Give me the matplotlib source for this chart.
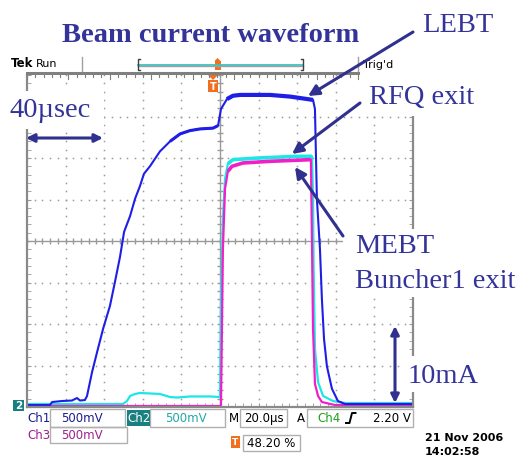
import numpy as np
import matplotlib.pyplot as plt
from matplotlib.patches import Rectangle, Polygon

# scope settings: 20 us/div (10 div), 500 mV/div (8 div)
# Ch1 - LEBT
ch1_t = [0, 11.9, 13.0, 18.1, 23.3, 25.9, 27.5, 30.0, 31.1, 33.7, 36.3, 39.4, 43.0,
         45.6, 48.2, 50.3, 53.4, 56.0, 58.5, 60.6, 63.7, 66.3, 68.9, 74.1, 79.3, 84.4,
         89.6, 96.4, 99.0, 100.5, 103.6, 106.7, 110.4, 125.9, 136.3, 148.2, 149.2,
         150.2, 151.8, 152.8, 153.9, 155.4, 158.0, 161.1, 164.8, 200]
ch1_v = [0.024, 0.024, 0.060, 0.072, 0.078, 0.108, 0.078, 0.084, 0.133, 0.42, 0.66,
         0.94, 1.22, 1.51, 1.81, 2.11, 2.30, 2.51, 2.66, 2.81, 2.90, 2.99, 3.08, 3.20,
         3.29, 3.33, 3.35, 3.36, 3.39, 3.59, 3.71, 3.75, 3.76, 3.76, 3.74, 3.70, 3.59,
         2.51, 1.90, 1.30, 0.82, 0.49, 0.22, 0.072, 0.036, 0.036]
# Ch2 - RFQ exit
ch2_t = [0, 49.7, 51.8, 53.4, 56.0, 58.5, 63.7, 68.9, 74.1, 77.7, 84.4, 94.8, 100.0,
         100.5, 101.5, 102.6, 104.1, 106.7, 120.0, 140.0, 147.7, 148.2, 148.5, 149.2,
         150.8, 153.4, 158.5, 164.8, 200]
ch2_v = [0.036, 0.036, 0.072, 0.133, 0.157, 0.169, 0.163, 0.157, 0.12, 0.114, 0.127,
         0.127, 0.12, 1.30, 2.27, 2.75, 2.93, 2.98, 3.00, 3.02, 3.02, 2.51, 1.70, 0.70,
         0.30, 0.133, 0.072, 0.048, 0.048]
# Ch3 - MEBT buncher1 exit
ch3_t = [0, 100.5, 101.0, 101.5, 102.6, 104.1, 106.2, 111.9, 125.9, 147.1, 147.7,
         148.2, 149.2, 150.8, 152.8, 159.6, 200]
ch3_v = [0.012, 0.012, 0.94, 1.90, 2.63, 2.84, 2.90, 2.94, 2.96, 2.98, 1.90, 0.94,
         0.28, 0.133, 0.06, 0.024, 0.024]

W, H = 516, 460
navy = '#333399'
gridc = '#9a9a9a'
serif = 'Liberation Serif'

fig = plt.figure(figsize=(W / 100, H / 100), dpi=100)
ax = fig.add_axes([27 / W, (H - 408) / H, 386 / W, 332 / H])
ax.set_xlim(0, 200)
ax.set_ylim(0, 4)

xs_minor = np.arange(0, 200.1, 4)
ys_minor = np.arange(0, 4.01, 0.1)
for yv in np.arange(0.5, 4, 0.5):
    if abs(yv - 2) < 1e-6:
        continue
    ax.plot(xs_minor, np.full_like(xs_minor, yv), ls='none', marker='s', ms=1.1,
            mew=0, color=gridc)
for xv in np.arange(20, 200, 20):
    if xv == 100:
        continue
    ax.plot(np.full_like(ys_minor, xv), ys_minor, ls='none', marker='s', ms=1.1,
            mew=0, color=gridc)
ax.axhline(2, color=gridc, lw=1)
ax.axvline(100, color=gridc, lw=1)
ax.plot(xs_minor, np.full_like(xs_minor, 2), ls='none', marker='|', ms=5, color=gridc)
ax.plot(np.full_like(ys_minor, 100), ys_minor, ls='none', marker='_', ms=5, color=gridc)

ax.set_xticks(np.arange(0, 201, 20))
ax.set_xticks(xs_minor, minor=True)
ax.set_yticks(np.arange(0, 4.01, 0.5))
ax.set_yticks(ys_minor, minor=True)
ax.tick_params(which='both', direction='in', length=3, color=gridc, top=False,
               right=True, labelbottom=False, labelleft=False)
for s in ['left', 'right', 'bottom']:
    ax.spines[s].set_color('#8a8a8a')
    ax.spines[s].set_linewidth(1.6)
ax.spines['top'].set_visible(False)

c1, c2, c3 = '#1e1ee6', '#1ee6e6', '#f020c8'
ax.plot(ch2_t, ch2_v, color=c2, lw=1.6)
ax.plot(ch2_t[16:21], ch2_v[16:21], color=c2, lw=2.6, solid_capstyle='butt')
ax.plot(ch3_t, ch3_v, color=c3, lw=1.6)
ax.plot(ch3_t[5:10], ch3_v[5:10], color=c3, lw=2.6, solid_capstyle='butt')
ax.plot(ch1_t, ch1_v, color=c1, lw=1.5)
ax.plot(ch1_t[23:29], ch1_v[23:29], color=c1, lw=2.2, solid_capstyle='butt')
ax.plot(ch1_t[30:36], ch1_v[30:36], color=c1, lw=3.0, solid_capstyle='butt')

# overlay in pixel coordinates
ov = fig.add_axes([0, 0, 1, 1])
ov.set_xlim(0, W)
ov.set_ylim(H, 0)
ov.axis('off')
ov.set_zorder(2)
ov.patch.set_alpha(0)

# white label boxes
for x0, y0, w, h in [(0, 92, 104, 38), (358, 70, 129, 47), (343, 230, 173, 68),
                     (400, 357, 80, 36)]:
    ov.add_patch(Rectangle((x0, y0), w, h, fc='white', ec='none'))

# top status bar
ov.text(11, 67, 'Tek', fontsize=8.5, fontweight='bold', color='black')
ov.text(36, 67, 'Run', fontsize=8, color='black')
ov.plot([27, 358], [73.5, 73.5], color='#7f7f7f', lw=2.2)
tick_x = np.linspace(27, 358, 41)
for i, tx in enumerate(tick_x):
    ov.plot([tx, tx], [74, 78 if i % 5 else 80], color='#7f7f7f', lw=0.8)
for sx in [82, 358]:
    ov.plot([sx, sx], [58, 72], color='#a0a0a0', lw=1)
ov.plot([138, 303], [67, 67], color='#a0a0a0', lw=1)
ov.plot([138, 303], [65.5, 65.5], color='#40c0c0', lw=1.3)
ov.plot([140, 138, 138, 140], [60, 60, 71, 71], color='#404040', lw=1)
ov.plot([301, 303, 303, 301], [60, 60, 71, 71], color='#404040', lw=1)
ov.add_patch(Rectangle((214.5, 62), 6, 9, fc='#f07020', ec='none'))
ov.add_patch(Polygon([[214.5, 62], [220.5, 62], [217.5, 59]], fc='#f07020', ec='none'))
ov.text(363, 68, "Trig'd", fontsize=8, color='black')

# trigger marker on screen
ov.add_patch(Polygon([[208, 76], [218, 76], [213, 81]], fc='#f07020', ec='none'))
ov.add_patch(Rectangle((208, 81), 10, 12, fc='#f07020', ec='none'))
ov.text(213, 87.5, 'T', fontsize=7, fontweight='bold', color='white', ha='center', va='center')

# ground marker
ov.add_patch(Rectangle((13, 401), 11, 11, fc='#188080', ec='none'))
ov.text(18.5, 406.5, '2', fontsize=7.5, fontweight='bold', color='white', ha='center', va='center')

# bottom readouts
boxes = [(50, 410, 75, 18), (150, 410, 75, 18), (240, 410, 47, 18), (307, 410, 106, 18),
         (50, 428, 77, 16), (243, 436, 57, 16)]
for x0, y0, w, h in boxes:
    ov.add_patch(Rectangle((x0, y0), w, h, fc='none', ec='#b0b0b0', lw=1))
ov.add_patch(Rectangle((127, 411), 23, 16, fc='#188080', ec='none'))
row1, row2 = 419, 436
ov.text(38.5, row1, 'Ch1', fontsize=8.5, color='#1c1c90', ha='center', va='center')
ov.text(82, row1, '500mV', fontsize=8.5, color='#1c1c90', ha='center', va='center')
ov.text(138.5, row1, 'Ch2', fontsize=8.5, color='white', ha='center', va='center')
ov.text(186, row1, '500mV', fontsize=8.5, color='#20a8a8', ha='center', va='center')
ov.text(234, row1, 'M', fontsize=8.5, color='black', ha='center', va='center')
ov.text(264, row1, '20.0\u00b5s', fontsize=8.5, color='black', ha='center', va='center')
ov.text(301, row1, 'A', fontsize=8.5, color='black', ha='center', va='center')
ov.text(329, row1, 'Ch4', fontsize=8.5, color='#1ca01c', ha='center', va='center')
ov.plot([346, 349.5, 352, 355.5], [424, 424, 414, 414], color='black', lw=1.4)
ov.text(411, row1, '2.20 V', fontsize=8.5, color='black', ha='right', va='center')
ov.text(38.5, row2, 'Ch3', fontsize=8.5, color='#a0208c', ha='center', va='center')
ov.text(82, row2, '500mV', fontsize=8.5, color='#a0208c', ha='center', va='center')
ov.add_patch(Rectangle((231, 437), 9, 12, fc='#f07020', ec='none'))
ov.text(235.5, 443, 'T', fontsize=6.5, fontweight='bold', color='white', ha='center', va='center')
ov.text(271, 444, '48.20 %', fontsize=8.5, color='black', ha='center', va='center')
ov.text(425, 438, '21 Nov 2006', fontsize=8, fontweight='bold', color='black', va='center')
ov.text(425, 452, '14:02:58', fontsize=8, fontweight='bold', color='black', va='center')

# annotations
ov.text(211, 41.5, 'Beam current waveform', fontsize=20.5, fontweight='bold',
        family=serif, color=navy, ha='center', va='baseline')
ov.text(422, 31.5, 'LEBT', fontsize=20.5, family=serif, color=navy, va='baseline')
ov.text(369, 104, 'RFQ exit', fontsize=20.5, family=serif, color=navy, va='baseline')
ov.text(9, 117, '40\u00b5sec', fontsize=20.5, family=serif, color=navy, va='baseline')
ov.text(355, 253, 'MEBT', fontsize=20.5, family=serif, color=navy, va='baseline')
ov.text(355, 288, 'Buncher1 exit', fontsize=20.5, family=serif, color=navy, va='baseline')
ov.text(408, 383, '10mA', fontsize=20.5, family=serif, color=navy, va='baseline')

arrow_c = '#30308f'
for tail, head in [((413, 33), (308, 97)), ((360, 104), (292, 155)), ((343, 237), (295, 168))]:
    ov.annotate('', xy=head, xytext=tail,
                arrowprops=dict(arrowstyle='-|>', color=arrow_c, lw=2.2,
                                mutation_scale=16, shrinkA=0, shrinkB=0))
ov.annotate('', xy=(103, 139), xytext=(26, 139),
            arrowprops=dict(arrowstyle='<|-|>', color=arrow_c, lw=2.2,
                            mutation_scale=12, shrinkA=0, shrinkB=0))
ov.annotate('', xy=(395, 404), xytext=(395, 327),
            arrowprops=dict(arrowstyle='<|-|>', color=arrow_c, lw=2.2,
                            mutation_scale=12, shrinkA=0, shrinkB=0))

fig.savefig('out.png', dpi=100)
